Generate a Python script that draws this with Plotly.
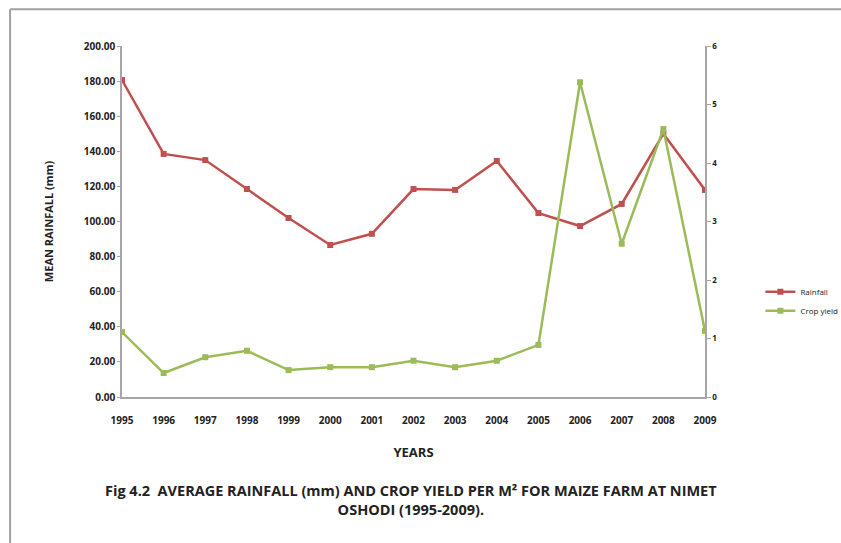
import plotly.graph_objects as go

years = ["1995", "1996", "1997", "1998", "1999", "2000", "2001", "2002",
         "2003", "2004", "2005", "2006", "2007", "2008", "2009"]
rainfall = [180.6, 138.5, 135.0, 118.5, 102.0, 86.6, 93.0, 118.5,
            118.0, 134.5, 104.8, 97.4, 110.0, 150.0, 118.0]
crop_yield = [1.11, 0.41, 0.68, 0.79, 0.46, 0.51, 0.51, 0.62,
              0.51, 0.62, 0.89, 5.38, 2.62, 4.58, 1.13]

RED = "#C0504D"
GREEN = "#9BBB59"
FONT = "Open Sans"

fig = go.Figure()
fig.add_trace(go.Scatter(
    x=years, y=rainfall, name="Rainfall", mode="lines+markers",
    line=dict(color=RED, width=2.5), marker=dict(symbol="square", size=6, color=RED),
    yaxis="y"))
fig.add_trace(go.Scatter(
    x=years, y=crop_yield, name="Crop yield", mode="lines+markers",
    line=dict(color=GREEN, width=2.5), marker=dict(symbol="square", size=6, color=GREEN),
    yaxis="y2"))

fig.update_layout(
    width=841, height=543,
    margin=dict(l=122, r=136, t=46, b=146, autoexpand=False),
    paper_bgcolor="white", plot_bgcolor="white",
    font=dict(family=FONT, color="#222222"),
    showlegend=True,
    legend=dict(x=1.095, y=0.273, xanchor="left", yanchor="middle",
                font=dict(size=8, family=FONT, color="#222"),
                bgcolor="rgba(0,0,0,0)", tracegroupgap=2, itemwidth=30),
    xaxis=dict(
        type="category", range=[0, 14], showgrid=False,
        showline=True, linecolor="#A6A6A6", linewidth=1.5,
        ticks="outside", ticklen=13, tickcolor="rgba(0,0,0,0)",
        tickfont=dict(size=10, family=FONT, color="#222", weight="bold"),
        title=dict(text="<b>YEARS</b>", font=dict(size=13, family=FONT, color="#222"), standoff=22),
    ),
    yaxis=dict(
        range=[0, 200], dtick=20, tickformat=".2f", showgrid=False, zeroline=False,
        showline=True, linecolor="#A6A6A6", linewidth=1.5,
        ticks="outside", ticklen=3, tickcolor="#A6A6A6",
        tickfont=dict(size=10, family=FONT, color="#222", weight="bold"),
        title=dict(text="<b>MEAN RAINFALL (mm)</b>", font=dict(size=11, family=FONT, color="#222"), standoff=28),
    ),
    yaxis2=dict(
        range=[0, 6], dtick=1, overlaying="y", side="right",
        showgrid=False, zeroline=False,
        showline=True, linecolor="#A6A6A6", linewidth=1.5,
        ticks="outside", ticklen=4, tickcolor="#A6A6A6",
        tickfont=dict(size=8, family=FONT, color="#222", weight="bold"),
    ),
)

# page frame (left and top rules)
fig.add_shape(type="line", xref="paper", yref="paper",
              x0=-0.192, x1=-0.192, y0=-0.42, y1=1.105,
              line=dict(color="#A0A0A0", width=2))
fig.add_shape(type="line", xref="paper", yref="paper",
              x0=-0.192, x1=1.3, y0=1.105, y1=1.105,
              line=dict(color="#A0A0A0", width=2))

fig.add_annotation(
    xref="paper", yref="paper", x=0.495, y=-0.233, xanchor="center", yanchor="top",
    showarrow=False, align="center",
    text="<b>Fig 4.2  AVERAGE RAINFALL (mm) AND CROP YIELD PER M² FOR MAIZE FARM AT NIMET<br>OSHODI (1995-2009).</b>",
    font=dict(size=14.5, family=FONT, color="#222"))

fig.write_html("out.html")
